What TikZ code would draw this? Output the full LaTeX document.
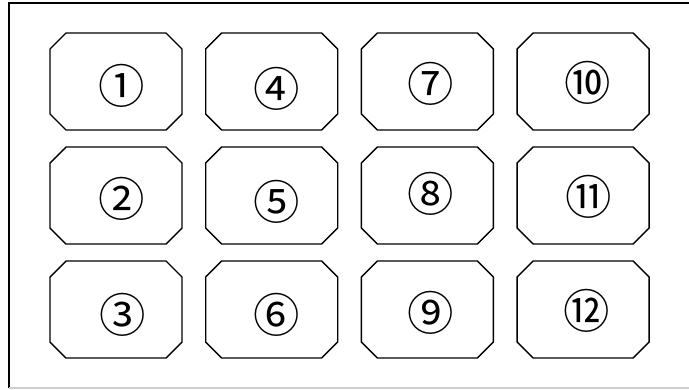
\documentclass[tikz,border=0pt]{standalone}
\usepackage{fontspec}
\newfontfamily\cjk{Noto Sans CJK JP}
\usepackage{tikz}
\usetikzlibrary{calc}
\definecolor{mydark}{RGB}{0,0,0}
\definecolor{myfaint}{RGB}{205,205,205}
\tikzset{
  outline/.style={draw=mydark, line width=1.4pt},
  faintline/.style={draw=myfaint, line width=1pt},
  slot/.style={draw=mydark, line width=1pt, line join=miter},
  num/.style={font=\cjk\fontsize{33}{33}\selectfont, inner sep=0pt}
}

\begin{document}
\begin{tikzpicture}[x=0.025cm, y=-0.025cm]
  \useasboundingbox (0,0) rectangle (689,389);
  % Outer frame (runs off on the right)
  \coordinate (ftl) at (9,3);
  \coordinate (fbl) at (9,388);
  \draw[outline] (ftl -| 700,0) -- (ftl) -- (fbl);
  \draw[faintline] (fbl) -- (fbl -| 700,0);

  % Slots: number / column / row / label position / label
  \foreach \n/\col/\row/\lx/\ly/\lab in {
      1/0/0/122/86/①, 2/0/1/122/199/②, 3/0/2/123/315/③,
      4/1/0/277/89/④, 5/1/1/277/202/⑤, 6/1/2/277/315/⑥,
      7/2/0/431/84/⑦, 8/2/1/431/194/⑧, 9/2/2/431/313/⑨,
      10/3/0/588/83/⑩, 11/3/1/589/197/⑪, 12/3/2/587/311/⑫} {
    \coordinate (c\n) at ({50+155.7*\col}, {33+114*\row});
    \draw[slot] ($(c\n)+(16,0)$) -- ++(100,0) -- ++(16,16) -- ++(0,65)
      -- ++(-16,16) -- ++(-100,0) -- ++(-16,-16) -- ++(0,-65) -- cycle;
    \node[num] (n\n) at (\lx,\ly) {\lab};
  }
\end{tikzpicture}
\end{document}
